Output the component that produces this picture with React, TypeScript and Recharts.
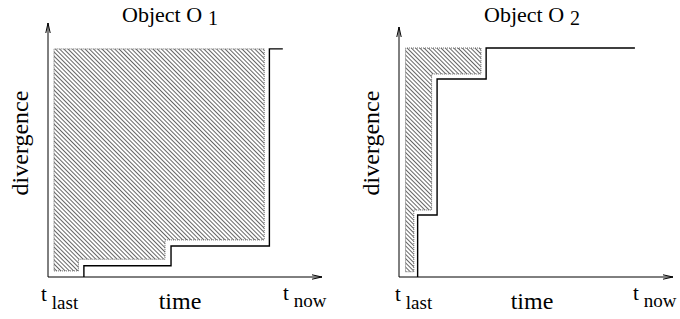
import React from 'react';
import { ComposedChart, Line, Area, XAxis, YAxis, ReferenceLine } from 'recharts';

// ---- Panel 1 : Object O1 ----
const stepTime1 = [13.1, 13.1, 44.9, 80.8, 85.7];
const stepDiv1 = [0, 4.4, 12.2, 89.8, 89.8];
const hatchTime1 = [2.2, 11.1, 42.7, 78.9];
const hatchLow1 = [2.4, 7.0, 14.6, 14.6];
const hatchTop1 = 89.8;

// ---- Panel 2 : Object O2 ----
const stepTime2 = [6.8, 6.8, 13.9, 31.8, 86.1];
const stepDiv2 = [0, 24.8, 79.2, 91.6, 91.6];
const hatchTime2 = [2.4, 5.4, 11.9, 29.9];
const hatchLow2 = [2.1, 26.8, 81.2, 81.2];
const hatchTop2 = 91.6;

const titles = ['Object O', 'Object O'];
const titleSubs = ['1', '2'];
const xLabel = 'time';
const yLabel = 'divergence';
const tLast = ['t', 'last'];
const tNow = ['t', 'now'];

const FONT = 'Liberation Serif, serif';

function outline(xs: number[], lows: number[], top: number) {
  const pts: { x: number; y: number }[] = [{ x: xs[0], y: lows[0] }];
  for (let i = 1; i < xs.length; i++) {
    pts.push({ x: xs[i], y: lows[i - 1] });
    pts.push({ x: xs[i], y: lows[i] });
  }
  pts.push({ x: xs[xs.length - 1], y: top });
  pts.push({ x: xs[0], y: top });
  pts.push({ x: xs[0], y: lows[0] });
  return pts;
}

const arrowShape = (p: any) => (
  <line
    x1={p.x1}
    y1={p.y1}
    x2={p.x2}
    y2={p.y2}
    stroke="#000"
    strokeWidth={1}
    markerEnd="url(#arrowHead)"
  />
);

function Panel(props: {
  stepTime: number[];
  stepDiv: number[];
  hatchTime: number[];
  hatchLow: number[];
  hatchTop: number;
  margin: { top: number; right: number; bottom: number; left: number };
}) {
  const { stepTime, stepDiv, hatchTime, hatchLow, hatchTop, margin } = props;
  const stepData = stepTime.map((x, i) => ({ x, y: stepDiv[i] }));
  const areaData = hatchTime.map((x, i) => ({ x, range: [hatchLow[i], hatchTop] }));
  const outlineData = outline(hatchTime, hatchLow, hatchTop);
  return (
    <ComposedChart width={340} height={319} margin={margin}>
      <XAxis type="number" dataKey="x" domain={[0, 100]} allowDataOverflow hide />
      <YAxis type="number" domain={[0, 100]} allowDataOverflow hide />
      <Area
        data={areaData}
        dataKey="range"
        type="stepAfter"
        stroke="none"
        fill="url(#hatch)"
        fillOpacity={1}
        isAnimationActive={false}
        activeDot={false}
      />
      <Line
        data={outlineData}
        dataKey="y"
        type="linear"
        stroke="#666"
        strokeWidth={1}
        strokeDasharray="1 1"
        dot={false}
        activeDot={false}
        isAnimationActive={false}
      />
      <Line
        data={stepData}
        dataKey="y"
        type="stepAfter"
        stroke="#000"
        strokeWidth={1.4}
        dot={false}
        activeDot={false}
        isAnimationActive={false}
      />
      <ReferenceLine segment={[{ x: 0, y: 0 }, { x: 100, y: 0 }]} shape={arrowShape} ifOverflow="visible" />
      <ReferenceLine segment={[{ x: 0, y: 0 }, { x: 0, y: 100 }]} shape={arrowShape} ifOverflow="visible" />
    </ComposedChart>
  );
}

function Labels(props: { title: string; sub: string; titleX: number; timeX: number; lastX: number; nowX: number; divX: number }) {
  const { title, sub, titleX, timeX, lastX, nowX, divX } = props;
  return (
    <g fill="#000" style={{ fontFamily: FONT }}>
      <text x={titleX} y={22} fontSize={22}>
        {title}
        <tspan dx={6} dy={3} fontSize={20}>{sub}</tspan>
      </text>
      <text x={divX} y={143} fontSize={24} textAnchor="middle" transform={`rotate(-90, ${divX}, 143)`}>
        {yLabel}
      </text>
      <text x={timeX} y={309} fontSize={24} textAnchor="middle">{xLabel}</text>
      <text x={lastX} y={301} fontSize={21}>
        {tLast[0]}
        <tspan dx={5} dy={8} fontSize={19}>{tLast[1]}</tspan>
      </text>
      <text x={nowX} y={300} fontSize={21}>
        {tNow[0]}
        <tspan dx={5} dy={7} fontSize={19}>{tNow[1]}</tspan>
      </text>
    </g>
  );
}

export default function App() {
  return (
    <div style={{ position: 'absolute', left: 0, top: 0, width: 680, height: 319, background: '#fff', overflow: 'hidden' }}>
      <svg width={0} height={0} style={{ position: 'absolute' }}>
        <defs>
          <pattern id="hatch" patternUnits="userSpaceOnUse" width={3} height={3} patternTransform="rotate(-45)">
            <line x1={1.5} y1={0} x2={1.5} y2={3} stroke="#555" strokeWidth={0.9} />
          </pattern>
          <marker
            id="arrowHead"
            viewBox="0 0 10 6"
            refX={10}
            refY={3}
            markerWidth={10}
            markerHeight={6}
            markerUnits="userSpaceOnUse"
            orient="auto"
          >
            <path d="M0,0.8 L10,3 L0,5.2" fill="none" stroke="#000" strokeWidth={1} />
          </marker>
        </defs>
      </svg>
      <div style={{ position: 'absolute', left: 0, top: 0 }}>
        <Panel
          stepTime={stepTime1}
          stepDiv={stepDiv1}
          hatchTime={hatchTime1}
          hatchLow={hatchLow1}
          hatchTop={hatchTop1}
          margin={{ top: 23, right: 18, bottom: 42, left: 48 }}
        />
      </div>
      <div style={{ position: 'absolute', left: 340, top: 0 }}>
        <Panel
          stepTime={stepTime2}
          stepDiv={stepDiv2}
          hatchTime={hatchTime2}
          hatchLow={hatchLow2}
          hatchTop={hatchTop2}
          margin={{ top: 27, right: 7, bottom: 42, left: 59 }}
        />
      </div>
      <svg width={680} height={319} style={{ position: 'absolute', left: 0, top: 0, pointerEvents: 'none' }}>
        <Labels title={titles[0]} sub={titleSubs[0]} titleX={122} timeX={180} lastX={41} nowX={283} divX={28} />
        <Labels title={titles[1]} sub={titleSubs[1]} titleX={484} timeX={532} lastX={395} nowX={633} divX={379} />
      </svg>
    </div>
  );
}
